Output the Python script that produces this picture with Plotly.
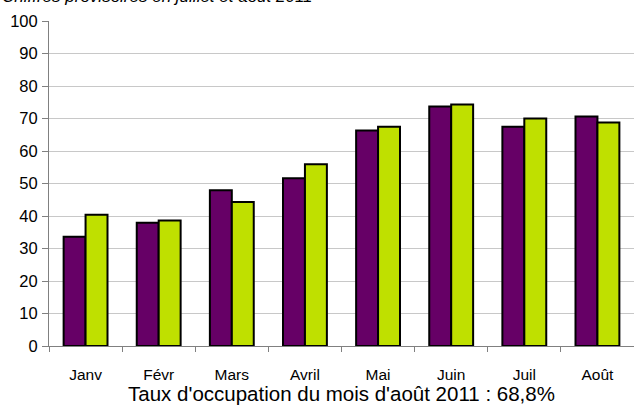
import plotly.graph_objects as go

months = ["Janv", "Févr", "Mars", "Avril", "Mai", "Juin", "Juil", "Août"]
serie_a = [33.6, 37.9, 47.9, 51.6, 66.3, 73.7, 67.5, 70.6]
serie_b = [40.4, 38.6, 44.3, 55.9, 67.5, 74.3, 70.0, 68.8]
y_ticks = [0, 10, 20, 30, 40, 50, 60, 70, 80, 90, 100]
subtitle = "Chiffres provisoires en juillet et août 2011"
x_title = "Taux d'occupation du mois d'août 2011 : 68,8%"

W, H = 634, 405
ML, MR, MT, MB = 49, 0, 21, 59

fig = go.Figure()
fig.add_trace(go.Bar(x=months, y=serie_a, name="2010",
                     marker=dict(color="#660066", line=dict(color="#000000", width=2))))
fig.add_trace(go.Bar(x=months, y=serie_b, name="2011",
                     marker=dict(color="#bfe000", line=dict(color="#000000", width=2))))

ph = H - MT - MB
pw = W - ML - MR
fig.add_annotation(text=subtitle, xref="paper", yref="paper",
                   x=(0 - ML) / pw, y=1 + (MT + 3) / ph,
                   xanchor="left", yanchor="middle", showarrow=False,
                   font=dict(family="Liberation Sans, Arial", size=17, color="#000000",
                             style="italic"),
                   )

fig.update_layout(
    width=W, height=H,
    margin=dict(l=ML, r=MR, t=MT, b=MB),
    paper_bgcolor="white", plot_bgcolor="white",
    showlegend=False,
    barmode="group", bargap=0.4, bargroupgap=0,
    font=dict(family="Liberation Sans, Arial", color="#000000"),
)
fig.update_xaxes(
    automargin=False,
    showline=True, linecolor="#808080", linewidth=1,
    ticks="outside", tickson="boundaries", ticklen=5, tickcolor="#808080",
    tickfont=dict(size=15.5), ticklabelstandoff=14,
    title=dict(text=x_title, font=dict(size=20.5), standoff=3),
    showgrid=False,
)
fig.update_yaxes(
    automargin=False,
    range=[0, 100], tickvals=y_ticks,
    showline=True, linecolor="#808080", linewidth=1,
    ticks="outside", ticklen=6, tickcolor="#808080",
    tickfont=dict(size=16.5), ticklabelstandoff=1,
    showgrid=True, gridcolor="#c8c8c8", gridwidth=1,
    zeroline=False,
)
fig.write_html("out.html", config={"displayModeBar": False},
               post_script="document.body.style.margin='0';")
